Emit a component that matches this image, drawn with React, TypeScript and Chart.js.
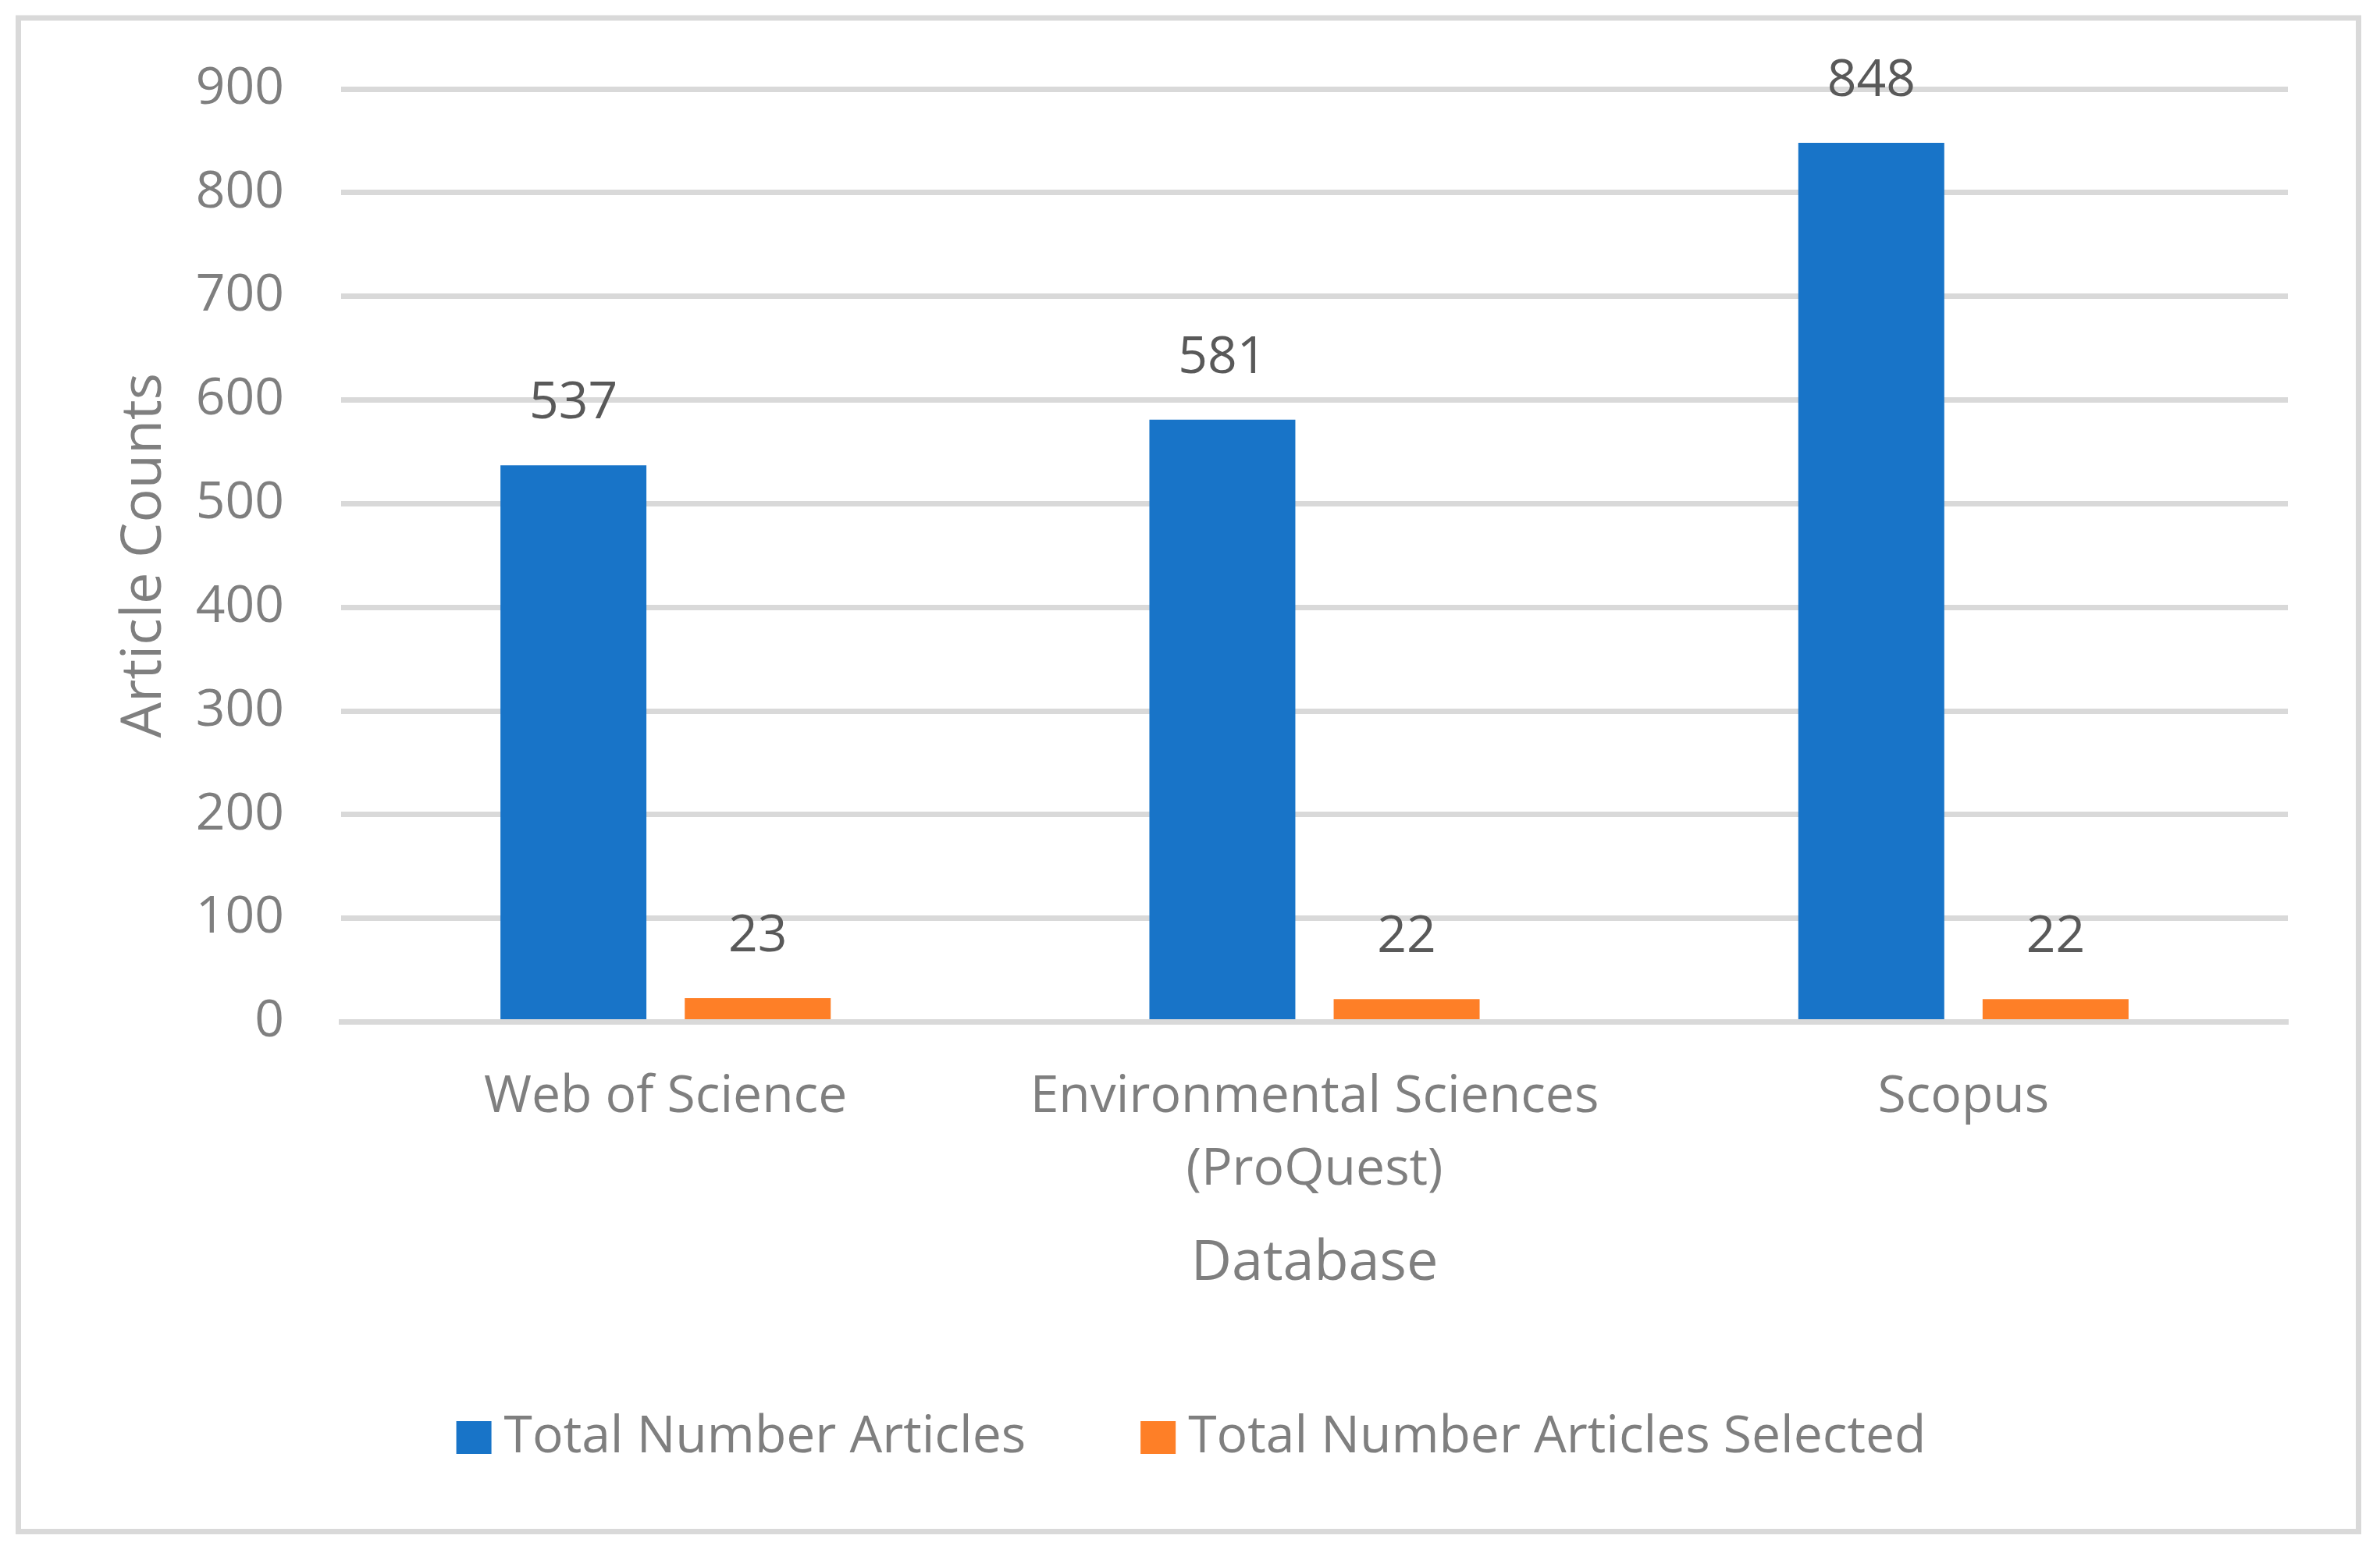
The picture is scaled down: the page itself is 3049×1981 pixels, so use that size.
import React, { useEffect, useRef } from 'react';
import { Chart, registerables } from 'chart.js';

Chart.register(...registerables);

const categories: string[][] = [['Web of Science'], ['Environmental Sciences', '(ProQuest)'], ['Scopus']];
const totalArticles = [537, 581, 848];
const selectedArticles = [23, 22, 22];
const seriesNames = ['Total Number Articles', 'Total Number Articles Selected'];
const seriesColors = ['#1874c8', '#fe7f27'];
const yMin = 0;
const yMax = 900;
const yStep = 100;

const FONT = '"Open Sans", sans-serif';
const GRAY = '#7f7f7f';
const LABEL_GRAY = '#595959';
const GRID = '#d9d9d9';

const frameAndBackground = {
  id: 'frameAndBackground',
  beforeDraw(chart: any) {
    const { ctx, width, height } = chart;
    ctx.save();
    ctx.fillStyle = '#ffffff';
    ctx.fillRect(0, 0, width, height);
    ctx.strokeStyle = GRID;
    ctx.lineWidth = 7;
    ctx.strokeRect(23.5, 23, 2998, 1939.5);
    ctx.restore();
  },
};

const valueLabels = {
  id: 'valueLabels',
  afterDraw(chart: any) {
    const ctx = chart.ctx;
    ctx.save();
    ctx.font = `66px ${FONT}`;
    ctx.fillStyle = LABEL_GRAY;
    ctx.textAlign = 'center';
    ctx.textBaseline = 'middle';
    chart.data.datasets.forEach((ds: any, i: number) => {
      const meta = chart.getDatasetMeta(i);
      meta.data.forEach((el: any, j: number) => {
        ctx.fillText(String(ds.data[j]), el.x, el.y - 79);
      });
    });
    ctx.restore();
  },
};

// Excel-like legend: square swatch, small gap, text; centred under the chart
const excelLegend = {
  id: 'excelLegend',
  afterDraw(chart: any) {
    const ctx = chart.ctx;
    const boxW = 45;
    const boxH = 42;
    const textGap = 16;
    const itemGap = 147;
    const yCenter = 1842;
    ctx.save();
    ctx.font = `66px ${FONT}`;
    ctx.textBaseline = 'middle';
    ctx.textAlign = 'left';
    const items = chart.data.datasets.map((ds: any) => ({
      text: ds.label as string,
      color: ds.backgroundColor as string,
      w: ctx.measureText(ds.label).width,
    }));
    let total = 0;
    items.forEach((it: any, i: number) => {
      total += boxW + textGap + it.w + (i > 0 ? itemGap : 0);
    });
    let x = chart.width / 2 + 1.5 - total / 2;
    items.forEach((it: any) => {
      ctx.fillStyle = it.color;
      ctx.fillRect(x, yCenter - boxH / 2, boxW, boxH);
      ctx.fillStyle = GRAY;
      ctx.fillText(it.text, x + boxW + textGap, yCenter);
      x += boxW + textGap + it.w + itemGap;
    });
    ctx.restore();
  },
};

export default function App() {
  const ref = useRef<HTMLCanvasElement | null>(null);

  useEffect(() => {
    document.body.style.margin = '0';
    const canvas = ref.current;
    if (!canvas) return;
    const chart = new Chart(canvas, {
      type: 'bar',
      data: {
        labels: categories,
        datasets: [
          {
            label: seriesNames[0],
            data: totalArticles,
            backgroundColor: seriesColors[0],
            borderWidth: 0,
            categoryPercentage: 0.568,
            barPercentage: 0.792,
          },
          {
            label: seriesNames[1],
            data: selectedArticles,
            backgroundColor: seriesColors[1],
            borderWidth: 0,
            categoryPercentage: 0.568,
            barPercentage: 0.792,
          },
        ],
      },
      options: {
        responsive: false,
        animation: false,
        layout: { padding: { left: 147, right: 118, top: 114, bottom: 298 } },
        plugins: {
          legend: { display: false },
          tooltip: { enabled: false },
        },
        scales: {
          x: {
            grid: { display: false, drawTicks: false },
            border: { display: true, color: GRID, width: 7, z: 1 },
            ticks: {
              color: GRAY,
              font: { family: FONT, size: 66, lineHeight: 1.41 },
              padding: 50,
              maxRotation: 0,
              autoSkip: false,
            },
            title: {
              display: true,
              text: 'Database',
              color: GRAY,
              font: { family: FONT, size: 72, lineHeight: 1.2 },
              padding: { top: 0, bottom: 20 },
            },
            afterFit: (s: any) => {
              s.height = 373.5;
            },
          },
          y: {
            min: yMin,
            max: yMax,
            ticks: {
              stepSize: yStep,
              color: GRAY,
              font: { family: FONT, size: 66 },
              padding: 73,
            },
            grid: { color: GRID, lineWidth: 7, drawTicks: false },
            border: { display: false },
            title: {
              display: true,
              text: 'Article Counts',
              color: GRAY,
              font: { family: FONT, size: 72, lineHeight: 1 },
              padding: { top: 2, bottom: 0 },
            },
            afterFit: (s: any) => {
              s.width = 290;
            },
          },
        },
      } as any,
      plugins: [frameAndBackground, valueLabels, excelLegend],
    });
    return () => chart.destroy();
  }, []);

  return (
    <div style={{ position: 'fixed', left: 0, top: 0, width: 3049, height: 1981, background: '#fff' }}>
      <canvas ref={ref} width={3049} height={1981} style={{ display: 'block', width: 3049, height: 1981 }} />
    </div>
  );
}
